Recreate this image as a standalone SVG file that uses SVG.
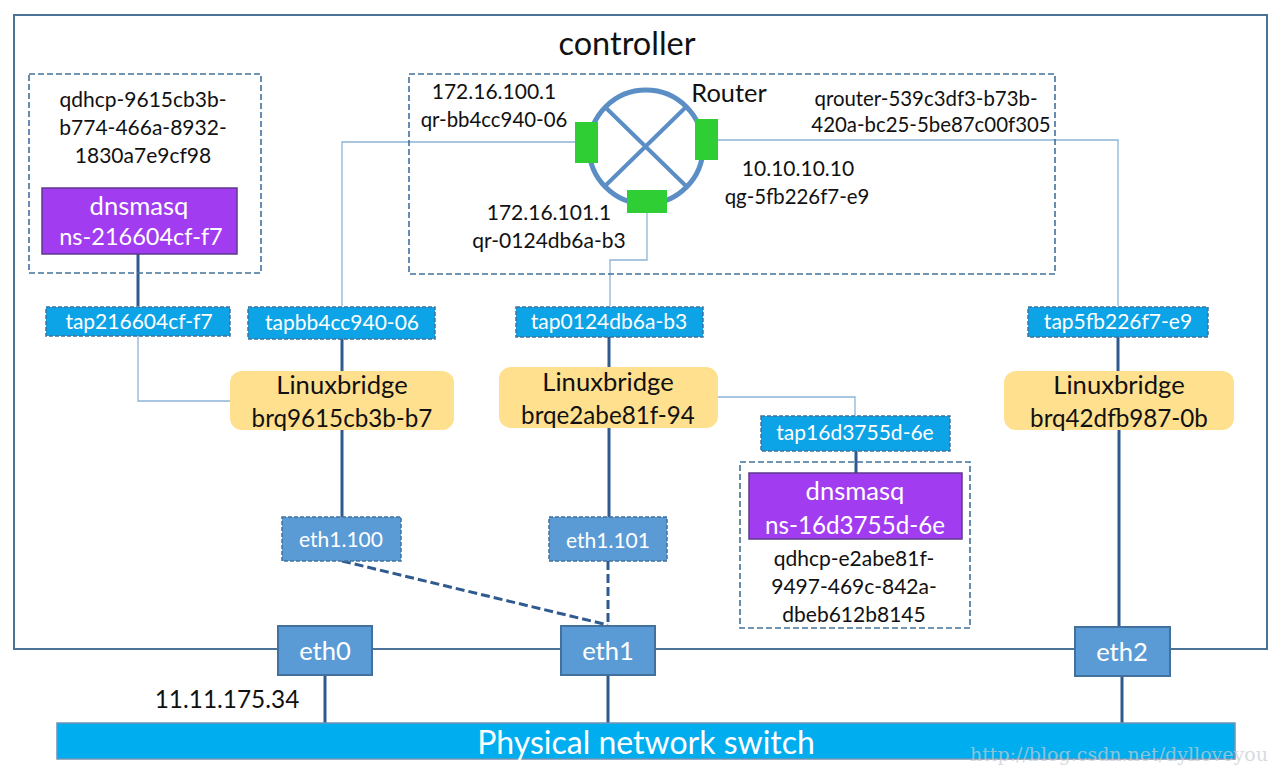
<svg xmlns="http://www.w3.org/2000/svg" width="1280" height="774" viewBox="0 0 1280 774">
<style>
text{font-family:Lato,"Liberation Sans",sans-serif;text-anchor:middle;fill:#111}
.w{fill:#fff}
.t20{font-size:21px}
.t205{font-size:20.4px}
.t24{font-size:24.2px}
.t25{font-size:25.6px}
.dash{fill:none;stroke:#41719c;stroke-width:1.6;stroke-dasharray:6 3}
.tap{fill:#0ca4e6;stroke:#41719c;stroke-width:1.5;stroke-dasharray:4 2}
.vlan{fill:#5b9bd5;stroke:#41719c;stroke-width:1.5;stroke-dasharray:4 2}
.eth{fill:#5b9bd5;stroke:#41719c;stroke-width:2}
.br{fill:#ffe08f}
.dns{fill:#a23cf0;stroke:#5e3a8c;stroke-width:1.5}
.port{fill:#2fce35}
.thin{fill:none;stroke:#8db4d8;stroke-width:1.3}
.thick{fill:none;stroke:#2f5a8f;stroke-width:3}
.dashed{fill:none;stroke:#2f5a8f;stroke-width:3;stroke-dasharray:9 4}
.rt{fill:none;stroke:#5b8ec4;stroke-width:5}
</style>
<rect id="controller" x="14" y="15" width="1253" height="634" fill="#fff" stroke="#4a7396" stroke-width="2"/>
<text x="627" y="55" font-size="32.5">controller</text>

<g id="connectors">
<path class="thin" d="M342 306V142H576"/>
<path class="thin" d="M718 140H1118V306"/>
<path class="thin" d="M647 213V260H610V306"/>
<path class="thin" d="M138 336V401H231"/>
<path class="thin" d="M717 397H855V416"/>
<path class="thick" d="M138 254V306"/>
<path class="thick" d="M342 339V371"/>
<path class="thick" d="M342 430V517"/>
<path class="thick" d="M609 337V368"/>
<path class="thick" d="M609 428V517"/>
<path class="thick" d="M1118 337V371"/>
<path class="thick" d="M1119 430V626"/>
<path class="thick" d="M856 451V474"/>
<path class="dashed" d="M342 561L608 625"/>
<path class="dashed" d="M608 561V625"/>
<path class="thick" d="M325 675V723"/>
<path class="thick" d="M608 675V723"/>
<path class="thick" d="M1122 675V723"/>
</g>

<g id="qdhcp-ns1">
<rect class="dash" x="29" y="74" width="232" height="199"/>
<text class="t20" x="143" y="107">qdhcp-9615cb3b-</text>
<text class="t20" x="143" y="135">b774-466a-8932-</text>
<text class="t20" x="143" y="163">1830a7e9cf98</text>
</g>
<g id="dnsmasq1">
<rect class="dns" x="42" y="188" width="195" height="66"/>
<text class="w t25" x="139" y="215">dnsmasq</text>
<text class="w" font-size="23.5" x="141" y="245">ns-216604cf-f7</text>
</g>

<g id="qrouter-ns">
<rect class="dash" x="409" y="74" width="646" height="200"/>
<text class="t20" x="494" y="99">172.16.100.1</text>
<text class="t205" x="494" y="127">qr-bb4cc940-06</text>
<text x="729" y="102" font-size="25.4">Router</text>
<text class="t205" x="926" y="106">qrouter-539c3df3-b73b-</text>
<text class="t205" x="931" y="132">420a-bc25-5be87c00f305</text>
<text class="t20" x="798" y="176">10.10.10.10</text>
<text class="t205" x="797" y="204">qg-5fb226f7-e9</text>
<text class="t20" x="549" y="220">172.16.101.1</text>
<text class="t20" x="549" y="248">qr-0124db6a-b3</text>
</g>
<g id="router">
<circle class="rt" cx="646" cy="147" r="57"/>
<path d="M604 106L687 187M687 106L604 187" fill="none" stroke="#5b8ec4" stroke-width="4"/>
<rect class="port" x="575" y="122" width="23" height="41"/>
<rect class="port" x="695" y="119" width="23" height="41"/>
<rect class="port" x="627" y="190" width="40" height="23"/>
</g>

<g id="tap216604cf-f7"><rect class="tap" x="46" y="307" width="184" height="29"/><text class="w t20" x="139" y="329">tap216604cf-f7</text></g>
<g id="tapbb4cc940-06"><rect class="tap" x="248" y="307" width="187" height="32"/><text class="w t20" x="342" y="330">tapbb4cc940-06</text></g>
<g id="tap0124db6a-b3"><rect class="tap" x="516" y="307" width="187" height="30"/><text class="w t20" x="609" y="329">tap0124db6a-b3</text></g>
<g id="tap5fb226f7-e9"><rect class="tap" x="1028" y="307" width="180" height="30"/><text class="w t20" x="1118" y="329">tap5fb226f7-e9</text></g>
<g id="tap16d3755d-6e"><rect class="tap" x="761" y="416" width="189" height="35"/><text class="w t20" x="855" y="440">tap16d3755d-6e</text></g>

<g id="bridge1"><rect class="br" x="230" y="371" width="224" height="59" rx="12"/><text class="t25" x="342" y="394">Linuxbridge</text><text class="t24" x="342" y="427">brq9615cb3b-b7</text></g>
<g id="bridge2"><rect class="br" x="499" y="367" width="219" height="61" rx="12"/><text class="t25" x="608" y="391">Linuxbridge</text><text class="t24" x="608" y="424">brqe2abe81f-94</text></g>
<g id="bridge3"><rect class="br" x="1004" y="371" width="230" height="59" rx="12"/><text class="t25" x="1119" y="394">Linuxbridge</text><text class="t24" x="1119" y="427">brq42dfb987-0b</text></g>

<g id="qdhcp-ns2">
<rect class="dash" x="740" y="462" width="230" height="166"/>
<text class="t20" x="854" y="566">qdhcp-e2abe81f-</text>
<text class="t20" x="854" y="594">9497-469c-842a-</text>
<text class="t20" x="854" y="622">dbeb612b8145</text>
</g>
<g id="dnsmasq2">
<rect class="dns" x="749" y="473" width="213" height="66"/>
<text class="w t25" x="855" y="500">dnsmasq</text>
<text class="w t24" x="855" y="534">ns-16d3755d-6e</text>
</g>

<g id="eth1.100"><rect class="vlan" x="282" y="517" width="119" height="44"/><text class="w t20" x="341" y="547">eth1.100</text></g>
<g id="eth1.101"><rect class="vlan" x="549" y="517" width="118" height="44"/><text class="w t20" x="608" y="548">eth1.101</text></g>

<g id="eth0"><rect class="eth" x="278" y="626" width="94" height="49"/><text class="w t25" x="325" y="660">eth0</text></g>
<g id="eth1"><rect class="eth" x="561" y="626" width="94" height="49"/><text class="w t25" x="608" y="660">eth1</text></g>
<g id="eth2"><rect class="eth" x="1075" y="627" width="95" height="49"/><text class="w t25" x="1122" y="661">eth2</text></g>

<text x="227" y="708" font-size="24.4">11.11.175.34</text>

<g id="switch">
<rect x="57" y="723" width="1178" height="36" fill="#00aeef" stroke="#6f93b5" stroke-width="1.5"/>
<text class="w" x="646" y="754" font-size="32">Physical network switch</text>
</g>
<text x="1119" y="761" font-size="19" style="font-family:'DejaVu Serif',serif;fill:#c4cdd4;opacity:.7">http://blog.csdn.net/dylloveyou</text>
</svg>
